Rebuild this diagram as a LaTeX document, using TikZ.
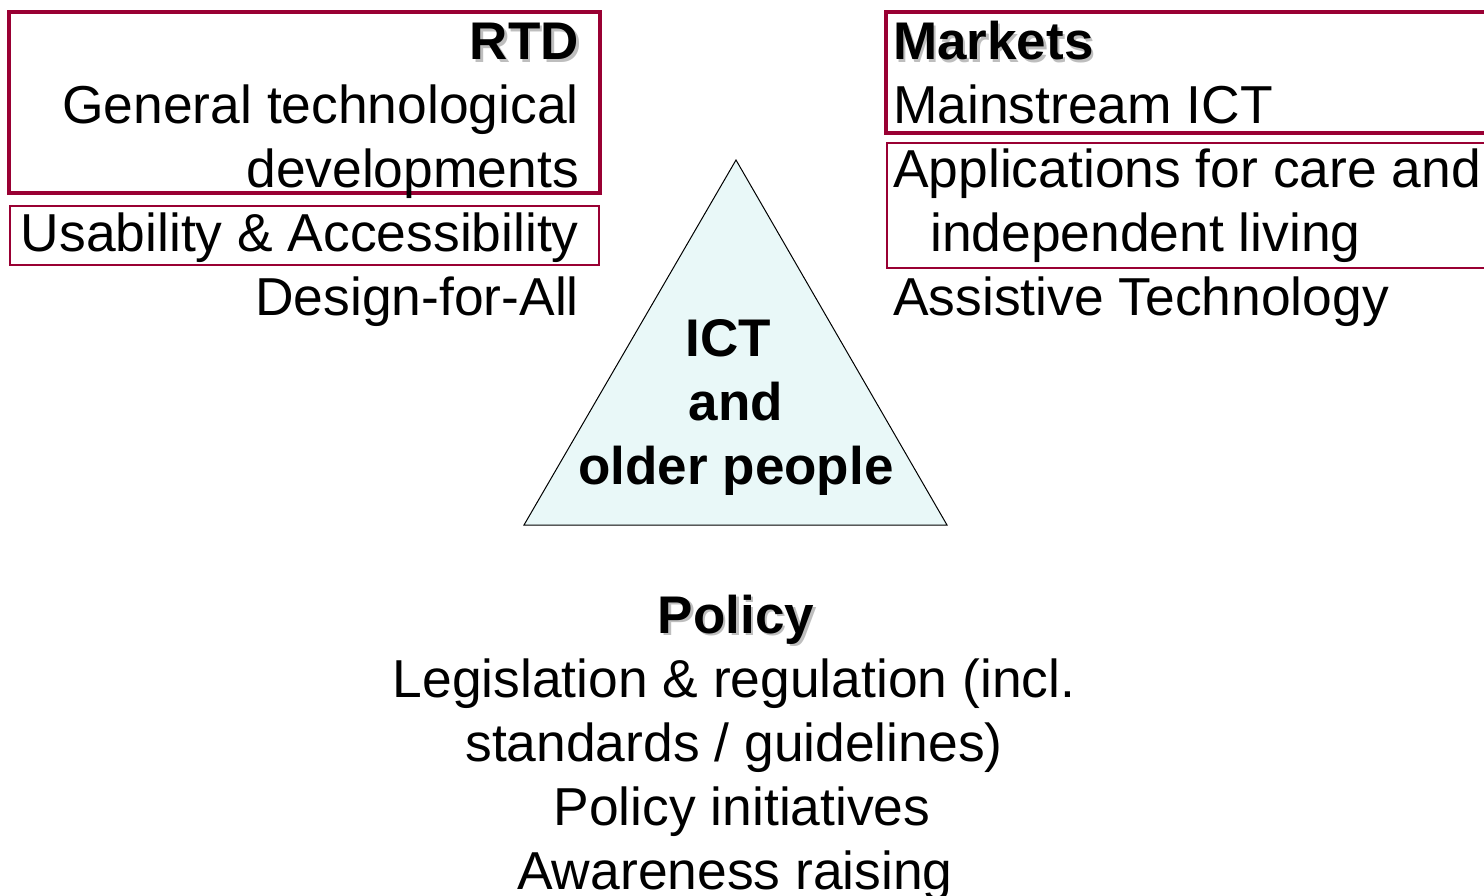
\documentclass[tikz,border=0pt]{standalone}
\usepackage{fontspec}
\setmainfont{Liberation Sans}
\definecolor{boxred}{HTML}{990033}
\definecolor{trifill}{HTML}{E9F8F8}
\definecolor{shade}{HTML}{BEBEBE}
\begin{document}
\begin{tikzpicture}[x=1pt,y=-1pt,
  txt/.style={inner sep=0pt, font=\fontsize{53.4}{64}\selectfont},
  ttl/.style={txt, font=\fontsize{53}{64}\selectfont\bfseries},
  shd/.style={ttl, text=shade},
  heavybox/.style={draw=boxred, line width=4pt},
  thinbox/.style={draw=boxred, line width=1.8pt},
  tri/.style={draw=black, line width=1pt, fill=trifill, line join=miter}]
\useasboundingbox (0,0) rectangle (1484,896);
% boxes
\draw[heavybox] (9,12) rectangle (600,193);
\draw[thinbox] (10,206) rectangle (599,265);
\draw[heavybox] (886,12) rectangle (1495,133);
\draw[thinbox] (887,143) rectangle (1495,268);
% triangle
\coordinate (apex) at (736,160);
\coordinate (bl) at (524,525);
\coordinate (br) at (947,525);
\draw[tri] (apex) -- (bl) -- (br) -- cycle;
\node[ttl, anchor=base] (ict) at (728,356) {ICT};
\node[ttl, anchor=base] (and) at (736,420) {and};
\node[ttl, anchor=base] (older) at (736,484) {older people};
% left column
\node[shd, anchor=base east] (rtds) at (581.5,62.5) {RTD};
\node[ttl, anchor=base east] (rtd) at (579,60) {RTD};
\node[txt, anchor=base east] (gen) at (579,124) {General technological};
\node[txt, anchor=base east] (dev) at (579,188) {developments};
\node[txt, anchor=base east] (usa) at (579,252) {Usability \& Accessibility};
\node[txt, anchor=base east] (dfa) at (579,316) {Design-for-All};
% right column
\node[shd, anchor=base west] (mkts) at (895.5,62.5) {Markets};
\node[ttl, anchor=base west] (mkt) at (893,60) {Markets};
\node[txt, anchor=base west] (mict) at (893,124) {Mainstream ICT};
\node[txt, anchor=base west] (app) at (893,188) {Applications for care and};
\node[txt, anchor=base west] (ind) at (930,252) {independent living};
\node[txt, anchor=base west] (at) at (893,316) {Assistive Technology};
% policy
\node[shd, anchor=base] (pols) at (738.5,635.5) {Policy};
\node[ttl, anchor=base] (pol) at (736,633) {Policy};
\node[txt, anchor=base] (leg) at (734,697) {Legislation \& regulation (incl.};
\node[txt, anchor=base] (std) at (734,761) {standards / guidelines)};
\node[txt, anchor=base] (pin) at (742,825) {Policy initiatives};
\node[txt, anchor=base] (awr) at (735,889) {Awareness raising};
\end{tikzpicture}
\end{document}
